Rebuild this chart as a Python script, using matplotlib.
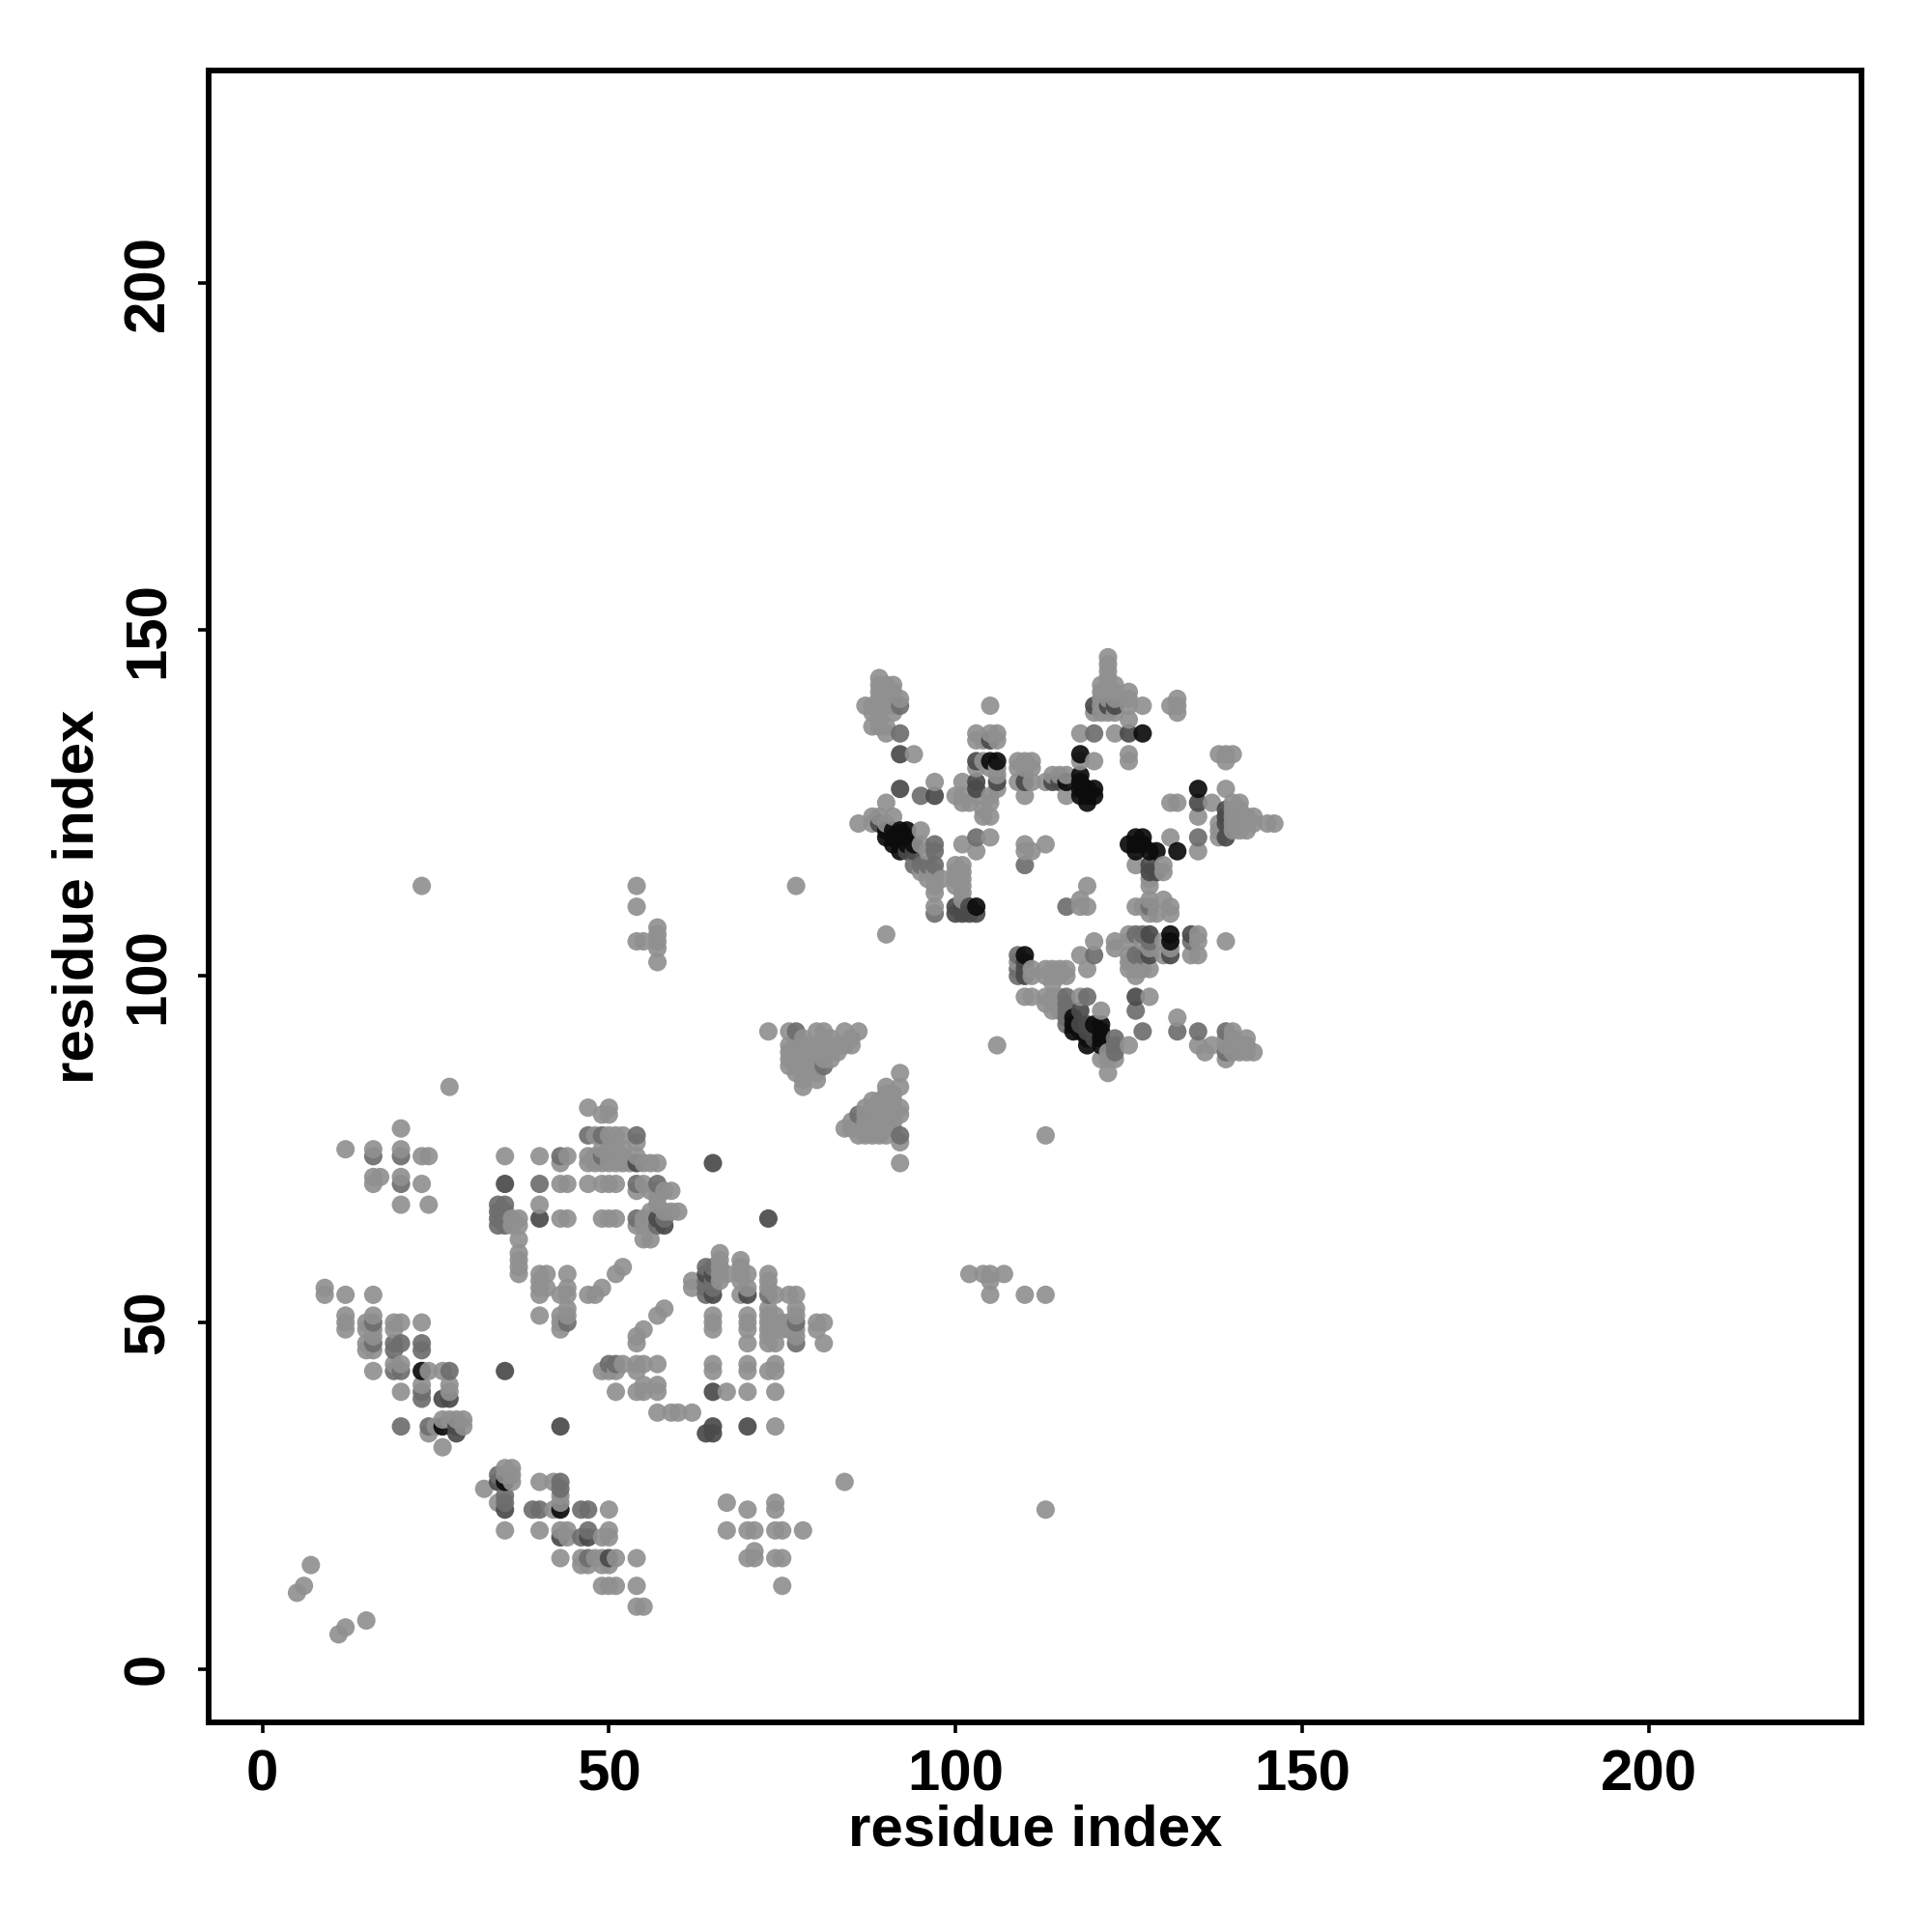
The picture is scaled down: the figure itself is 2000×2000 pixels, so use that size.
import numpy as np
import matplotlib
matplotlib.use("Agg")
import matplotlib.pyplot as plt

plt.rcParams['font.family'] = ['Liberation Sans', 'DejaVu Sans']

tick_values = [0, 50, 100, 150, 200]

# contacts as (residue, residue), one list per grey level
light_contacts = [
    (5, 11), (6, 12), (7, 15), (11, 5), (12, 6), (15, 7), (9, 55), (9, 54), (12, 54), (16, 54),
    (12, 51), (12, 50), (12, 49), (15, 50), (15, 49), (15, 47), (15, 46), (16, 51), (16, 49), (16, 48),
    (16, 46), (16, 43), (19, 50), (19, 49), (19, 44), (20, 50), (20, 44), (20, 40), (23, 50), (23, 41),
    (24, 43), (26, 43), (27, 41), (27, 40), (26, 36), (27, 36), (29, 36), (29, 35), (24, 34), (26, 32),
    (25, 35), (28, 36), (32, 26), (35, 29), (36, 29), (35, 28), (36, 28), (36, 27), (34, 24), (35, 20),
    (40, 27), (42, 27), (43, 25), (43, 24), (42, 23), (40, 20), (43, 20), (44, 20), (44, 19), (43, 16),
    (50, 23), (50, 20), (50, 19), (49, 19), (46, 16), (48, 16), (49, 16), (51, 16), (46, 15), (47, 15),
    (49, 15), (50, 15), (54, 16), (49, 12), (50, 12), (51, 12), (54, 12), (54, 9), (55, 9),
    # block around 40-60 / 45-60
    (37, 59), (37, 57), (40, 57), (41, 57), (44, 57), (40, 56), (40, 55), (40, 54), (41, 55), (44, 55),
    (44, 54), (43, 54), (40, 51), (44, 52), (43, 51), (44, 51), (43, 50), (43, 49), (47, 54), (48, 54),
    (49, 55), (51, 57), (52, 58), (57, 51), (58, 52), (54, 48), (54, 47), (55, 49), (49, 43), (50, 43),
    (51, 43), (52, 44), (54, 44), (55, 44), (57, 44), (54, 43), (51, 40), (54, 40), (55, 41), (55, 40),
    (57, 41), (57, 40), (57, 37), (59, 37), (60, 37), (62, 37), (49, 65), (50, 65), (51, 65),
    # block around 60-81 / 34-60
    (62, 56), (62, 55), (66, 60), (66, 59), (66, 58), (66, 57), (67, 57), (66, 56), (69, 59), (69, 58),
    (69, 57), (70, 57), (69, 56), (70, 55), (69, 54), (73, 57), (73, 56), (73, 55), (74, 54), (76, 54),
    (77, 54), (65, 51), (65, 50), (65, 49), (70, 51), (70, 50), (70, 49), (70, 47), (73, 52), (73, 51),
    (73, 50), (73, 49), (73, 48), (73, 47), (74, 51), (74, 49), (74, 47), (75, 50), (75, 49), (76, 50),
    (76, 49), (77, 52), (77, 51), (77, 49), (77, 48), (80, 50), (81, 50), (80, 49), (81, 47), (65, 44),
    (65, 43), (70, 44), (70, 43), (74, 44), (73, 43), (74, 43), (67, 40), (70, 40), (74, 40), (74, 35),
    (84, 27),
    # upper left patch
    (27, 84), (12, 75), (16, 75), (20, 78), (20, 75), (23, 74), (24, 74), (16, 71), (17, 71), (16, 70),
    (20, 71), (23, 70), (20, 67), (24, 67), (35, 74), (40, 74), (40, 67), (44, 74), (43, 73), (43, 70),
    (44, 70), (43, 65), (44, 65), (36, 64), (36, 65), (37, 65), (37, 64), (37, 62), (37, 60), (37, 58),
    (47, 81), (50, 81), (49, 80), (50, 80), (48, 77), (50, 77), (51, 77), (52, 77), (54, 76), (49, 75),
    (50, 75), (51, 75), (52, 75), (47, 74), (48, 74), (50, 74), (51, 74), (52, 74), (54, 74), (47, 73),
    (48, 73), (49, 73), (50, 73), (51, 73), (52, 73), (53, 73), (55, 73), (56, 73), (57, 73), (47, 70),
    (49, 70), (50, 70), (51, 70), (55, 70), (54, 69), (56, 69), (57, 69), (58, 69), (59, 69), (49, 65),
    (55, 65), (56, 65), (55, 64), (56, 64), (54, 64), (56, 66), (58, 66), (59, 66), (60, 66), (57, 67),
    (57, 68), (55, 62), (56, 62),
    # triangles near the diagonal
    (73, 92), (76, 92), (80, 92), (81, 92), (84, 92), (86, 92), (77, 91), (78, 91), (81, 91), (82, 91),
    (85, 91), (76, 90), (77, 90), (78, 90), (79, 90), (80, 90), (81, 90), (82, 90), (83, 90), (84, 90),
    (85, 90), (76, 89), (77, 89), (78, 89), (79, 89), (80, 89), (81, 89), (82, 89), (83, 89), (76, 88),
    (77, 88), (78, 88), (79, 88), (80, 88), (81, 88), (82, 88), (76, 87), (77, 87), (78, 87), (79, 87),
    (80, 87), (77, 86), (78, 86), (79, 86), (80, 86), (78, 85), (80, 85), (78, 84), (92, 86), (92, 84),
    (92, 81), (92, 80), (92, 76), (92, 73), (84, 78), (90, 84), (90, 83), (91, 83), (88, 82), (89, 82),
    (90, 82), (91, 82), (87, 81), (88, 81), (89, 81), (90, 81), (91, 81), (87, 80), (88, 80), (89, 80),
    (90, 80), (91, 80), (85, 79), (86, 79), (87, 79), (88, 79), (89, 79), (90, 79), (91, 79), (85, 78),
    (86, 78), (87, 78), (88, 78), (89, 78), (90, 78), (91, 78), (86, 77), (87, 77), (88, 77), (89, 77),
    (90, 77),
    # second domain, left arm
    (89, 143), (89, 142), (90, 142), (91, 142), (89, 141), (90, 141), (91, 141), (89, 140), (90, 140),
    (91, 140), (92, 140), (87, 139), (88, 139), (90, 139), (91, 139), (88, 138), (89, 138), (91, 138),
    (89, 137), (88, 136), (89, 136), (90, 136), (90, 135), (94, 132), (97, 128), (105, 139), (103, 135),
    (103, 134), (105, 135), (106, 135), (106, 134), (104, 134), (104, 131), (103, 130), (105, 130),
    (106, 130), (106, 129), (106, 127), (105, 126), (105, 125), (104, 124), (105, 123), (104, 123),
    (103, 126), (101, 128), (100, 126), (101, 126), (102, 125), (101, 125), (109, 131), (110, 131),
    (111, 130), (109, 130), (109, 128), (111, 128), (113, 128), (110, 126), (110, 119), (111, 118),
    (110, 118), (101, 119), (105, 120), (103, 118), (86, 122), (88, 123), (88, 122), (90, 125), (91, 123),
    (89, 123), (90, 122), (95, 121), (95, 119), (96, 118), (95, 115), (96, 115), (97, 115), (96, 114),
    (97, 114), (98, 114), (97, 113), (97, 112), (97, 110), (100, 116), (101, 116), (100, 115), (101, 115),
    (100, 114), (101, 114), (100, 113), (101, 113), (101, 112), (101, 111), (110, 130), (111, 131),
    # top of the second domain
    (122, 146), (122, 145), (122, 144), (122, 143), (121, 142), (123, 142), (121, 141), (122, 141),
    (123, 141), (125, 141), (121, 140), (122, 140), (123, 140), (125, 140), (121, 139), (125, 139),
    (127, 139), (120, 138), (121, 138), (122, 138), (123, 138), (125, 137), (118, 135), (123, 135),
    (132, 140), (131, 139), (132, 139), (132, 138), (125, 132), (125, 131), (120, 131), (118, 131),
    (114, 129), (115, 129), (116, 129), (113, 128), (114, 128), (116, 126), (131, 125), (132, 125),
    (137, 125), (135, 123), (139, 127), (138, 132), (139, 132), (140, 132), (139, 131), (140, 125),
    (141, 125), (140, 124), (141, 124), (140, 123), (141, 123), (142, 123), (143, 123), (138, 122),
    (140, 122), (141, 122), (142, 122), (143, 122), (145, 122), (146, 122), (138, 121), (140, 121),
    (141, 121), (142, 121), (138, 120), (113, 119), (131, 120), (135, 118), (126, 116), (130, 116),
    (130, 115), (128, 114), (128, 113), (128, 111), (130, 111), (126, 110), (127, 110), (131, 110),
    (128, 109), (129, 109), (131, 109), (119, 113), (118, 111), (118, 110), (119, 110),
    # lower right of the second domain
    (120, 105), (123, 105), (123, 104), (118, 103), (119, 101), (109, 102), (111, 101), (111, 100),
    (113, 101), (114, 101), (115, 101), (116, 101), (113, 100), (114, 100), (115, 100), (116, 100),
    (114, 99), (110, 97), (111, 97), (113, 97), (114, 97), (115, 97), (118, 97), (113, 96), (114, 95),
    (115, 95), (121, 95), (125, 90), (122, 88), (123, 88), (122, 86), (122, 89), (121, 88), (128, 97),
    (106, 90), (132, 94), (135, 90), (136, 89), (137, 90), (139, 91), (140, 92), (140, 91), (142, 91),
    (139, 90), (140, 90), (141, 90), (142, 90), (140, 89), (141, 89), (142, 89), (143, 89), (139, 88),
    (125, 106), (125, 105), (125, 103), (125, 102), (125, 101), (126, 101), (126, 100), (127, 105),
    (127, 101), (128, 101), (130, 105), (131, 104), (130, 103), (128, 104), (134, 106), (135, 106),
    (135, 105), (134, 103), (135, 103), (139, 105),
    # isolated contacts
    (23, 113), (54, 113), (54, 110), (54, 105), (55, 105), (57, 107), (57, 106), (57, 105), (57, 104),
    (57, 102), (77, 113), (90, 106), (113, 77), (102, 57), (104, 57), (105, 57), (107, 57), (105, 56),
    (105, 54), (110, 54), (113, 54), (113, 23), (67, 24), (70, 23), (74, 24), (74, 23), (67, 20), (70, 20),
    (71, 20), (74, 20), (75, 20), (78, 20), (71, 17), (70, 16), (71, 16), (74, 16), (75, 16), (75, 12),
]
mid_contacts = [
    (16, 50), (16, 47), (19, 47), (19, 46), (20, 47), (19, 43), (20, 43), (23, 47), (23, 46), (23, 40),
    (23, 39), (27, 43), (20, 35), (24, 35), (34, 28), (35, 25), (35, 24), (39, 23), (40, 23), (43, 26),
    (43, 27), (47, 20), (46, 23), (47, 23), (46, 19), (47, 16), (50, 16), (44, 50), (54, 65), (65, 58),
    (64, 58), (64, 56), (65, 56), (64, 55), (65, 55), (64, 54), (73, 54), (77, 50), (77, 47), (70, 54),
    (50, 44), (51, 44), (20, 74), (16, 74), (20, 70), (40, 70), (35, 70), (43, 74), (34, 67), (35, 67),
    (34, 66), (35, 66), (34, 65), (35, 65), (34, 64), (35, 64), (47, 77), (49, 77), (54, 77), (49, 74),
    (54, 73), (54, 70), (54, 65), (57, 70), (57, 65), (58, 65), (57, 64), (58, 64), (77, 92), (81, 87),
    (92, 77), (86, 80), (92, 139), (92, 135), (95, 126), (103, 120), (110, 116), (116, 110), (120, 103),
    (120, 135), (97, 119), (97, 118), (94, 116), (95, 116), (96, 116), (97, 116), (97, 109), (116, 97),
    (119, 97), (116, 96), (116, 95), (116, 94), (116, 93), (123, 91), (123, 90), (123, 89), (126, 95),
    (127, 92), (135, 92), (135, 120), (128, 110), (139, 92), (139, 89), (134, 105), (127, 103), (126, 103),
    (109, 103), (110, 128), (132, 92), (109, 101), (109, 100), (126, 106), (127, 106), (128, 105),
]
dark_contacts = [
    (27, 39), (26, 39), (28, 35), (28, 34), (35, 43), (43, 35), (34, 27), (35, 23), (43, 19), (47, 19),
    (50, 16), (65, 40), (64, 34), (65, 35), (65, 34), (70, 35), (70, 54), (65, 54), (65, 57), (64, 57),
    (65, 73), (73, 65), (40, 65), (35, 70), (54, 73), (57, 65), (58, 64), (92, 132), (92, 127), (97, 126),
    (103, 131), (103, 128), (103, 127), (105, 134), (106, 128), (93, 118), (94, 118), (100, 110),
    (100, 109), (101, 110), (101, 109), (102, 110), (102, 109), (103, 109), (120, 139), (122, 139),
    (123, 139), (110, 128), (125, 135), (135, 125), (139, 124), (139, 123), (139, 122), (139, 120),
    (128, 116), (129, 115), (128, 115), (110, 103), (110, 102), (110, 101), (110, 100), (118, 95),
    (126, 97), (128, 106), (128, 103), (131, 103), (89, 122), (134, 106), (115, 128), (114, 128),
    (118, 93), (119, 92), (119, 93), (120, 92), (120, 91),
]
black_contacts = [
    (23, 43), (26, 35), (35, 27), (43, 23), (90, 121), (90, 120), (91, 121), (92, 121), (93, 121), (91, 120),
    (92, 120), (92, 119), (92, 118), (105, 131), (106, 131), (103, 110), (127, 135), (118, 132), (116, 128),
    (118, 129), (118, 128), (118, 127), (119, 127), (120, 127), (120, 126), (118, 126), (119, 126),
    (119, 125), (135, 127), (125, 119), (126, 120), (127, 120), (126, 119), (127, 119), (126, 118),
    (128, 118), (129, 118), (132, 118), (117, 94), (117, 93), (117, 92), (118, 92), (119, 91), (119, 90),
    (120, 93), (121, 93), (121, 92), (121, 91), (121, 90), (131, 106), (131, 105), (110, 103),
    (93, 119), (91, 119), (93, 120), (94, 119),
]
grey_levels = [0.565, 0.43, 0.29, 0.05]


def collect_points():
    # later lists win when a contact was read twice
    shades = {}
    groups = [light_contacts, mid_contacts, dark_contacts, black_contacts]
    for group, grey in zip(groups, grey_levels):
        for pair in group:
            shades[pair] = grey
    # drawn sorted by x then y, later points sit on top
    pairs = sorted(shades)
    x = np.array([p[0] for p in pairs])
    y = np.array([p[1] for p in pairs])
    grey = np.array([shades[p] for p in pairs])
    return x, y, grey


def main():
    x, y, grey = collect_points()

    fig = plt.figure(figsize=(10, 10), dpi=200)
    ax = fig.add_axes([215.6 / 2000, 1 - 1783 / 2000, (1927 - 215.6) / 2000, (1783 - 72.7) / 2000])
    ax.scatter(x, y, c=grey, cmap='gray', vmin=0, vmax=1, s=47, linewidths=0, alpha=0.92)

    ax.set_xlim(-7.8, 230.7)
    ax.set_ylim(-7.7, 230.7)
    ax.set_xticks(tick_values)
    ax.set_yticks(tick_values)
    ax.tick_params(length=4, width=1.3, labelsize=21.6)
    ax.tick_params(axis='x', pad=6)
    ax.tick_params(axis='y', pad=8.3)
    for label in ax.get_xticklabels():
        label.set_fontweight('bold')
    for label in ax.get_yticklabels():
        label.set_fontweight('bold')
        label.set_rotation(90)
        label.set_verticalalignment('center')
    ax.set_xlabel("residue index", fontsize=21.6, fontweight='bold', labelpad=0.5)
    ax.set_ylabel("residue index", fontsize=21.6, fontweight='bold', labelpad=6.4)
    for side in ax.spines.values():
        side.set_linewidth(2.1)

    fig.savefig("out.png", dpi=200)


if __name__ == "__main__":
    main()
